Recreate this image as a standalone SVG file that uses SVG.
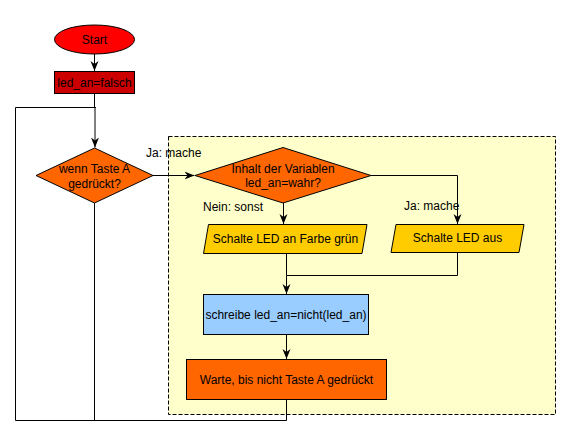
<svg xmlns="http://www.w3.org/2000/svg" width="571" height="436" viewBox="0 0 571 436">
<defs>
<marker id="arr" markerWidth="10" markerHeight="10" refX="10" refY="5" orient="auto" markerUnits="userSpaceOnUse">
<path d="M0,1 L10,5 L0,9 L3,5 z" fill="#000"/>
</marker>
<style>
text{font-family:"Liberation Sans",Arial,sans-serif;font-size:12px;fill:#000}
.c{text-anchor:middle}
.ln{fill:none;stroke:#000;stroke-width:1}
.sh{stroke:#000;stroke-width:1}
</style>
</defs>
<rect width="571" height="436" fill="#fff"/>
<g id="group-box">
<rect x="168.5" y="136.5" width="387" height="278" fill="#ffffcc" stroke="#000" stroke-dasharray="4,2"/>
</g>
<g id="connectors">
<line class="ln" x1="94.5" y1="54" x2="94.5" y2="71" marker-end="url(#arr)"/>
<line class="ln" x1="94.5" y1="93.5" x2="94.5" y2="107.5"/>
<polyline class="ln" points="286.5,399.5 286.5,420.5 15.5,420.5 15.5,107.5 96,107.5"/>
<line class="ln" x1="95" y1="107" x2="95" y2="147.5" stroke-width="2" marker-end="url(#arr)"/>
<line class="ln" x1="94.5" y1="203" x2="94.5" y2="420.5"/>
<line class="ln" x1="153" y1="175.5" x2="194.5" y2="175.5" marker-end="url(#arr)"/>
<text x="146" y="157">Ja: mache</text>
<polyline class="ln" points="371,175.5 457.5,175.5 457.5,224" marker-end="url(#arr)"/>
<text x="404" y="210">Ja: mache</text>
<line class="ln" x1="283.5" y1="203" x2="283.5" y2="224" marker-end="url(#arr)"/>
<text x="203" y="211">Nein: sonst</text>
<line class="ln" x1="286.5" y1="253.5" x2="286.5" y2="275.5"/>
<polyline class="ln" points="457.5,252.5 457.5,275.5 286.5,275.5 286.5,294" marker-end="url(#arr)"/>
<line class="ln" x1="286.5" y1="334.5" x2="286.5" y2="359" marker-end="url(#arr)"/>
</g>
<g id="start">
<ellipse class="sh" cx="94.5" cy="39.5" rx="40" ry="14.5" fill="#ff0000"/>
<text class="c" x="94.5" y="44">Start</text>
</g>
<g id="init">
<rect class="sh" x="54.5" y="71.5" width="80" height="22" fill="#cc0000"/>
<text class="c" x="94.5" y="87">led_an=falsch</text>
</g>
<g id="decision1">
<polygon class="sh" points="36,175.5 94.5,148 153,175.5 94.5,203" fill="#ff6600"/>
<text class="c" x="94.5" y="173">wenn Taste A</text>
<text class="c" x="94.5" y="188">gedrückt?</text>
</g>
<g id="decision2">
<polygon class="sh" points="195,175.5 283,147.5 371,175.5 283,203" fill="#ff6600"/>
<text class="c" x="283" y="173">Inhalt der Variablen</text>
<text class="c" x="283" y="187">led_an=wahr?</text>
</g>
<g id="led-green">
<polygon class="sh" points="208.5,224.5 367,224.5 362,253.5 203.5,253.5" fill="#ffcc00"/>
<text class="c" x="285.5" y="243">Schalte LED an Farbe grün</text>
</g>
<g id="led-off">
<polygon class="sh" points="396,224.5 524,224.5 519,252.5 391,252.5" fill="#ffcc00"/>
<text class="c" x="457.5" y="242">Schalte LED aus</text>
</g>
<g id="toggle">
<rect class="sh" x="203.5" y="294.5" width="165" height="40" fill="#99ccff"/>
<text class="c" x="286" y="319">schreibe led_an=nicht(led_an)</text>
</g>
<g id="wait">
<rect class="sh" x="186.5" y="359.5" width="200" height="40" fill="#ff6600"/>
<text class="c" x="286.5" y="384">Warte, bis nicht Taste A gedrückt</text>
</g>
</svg>
